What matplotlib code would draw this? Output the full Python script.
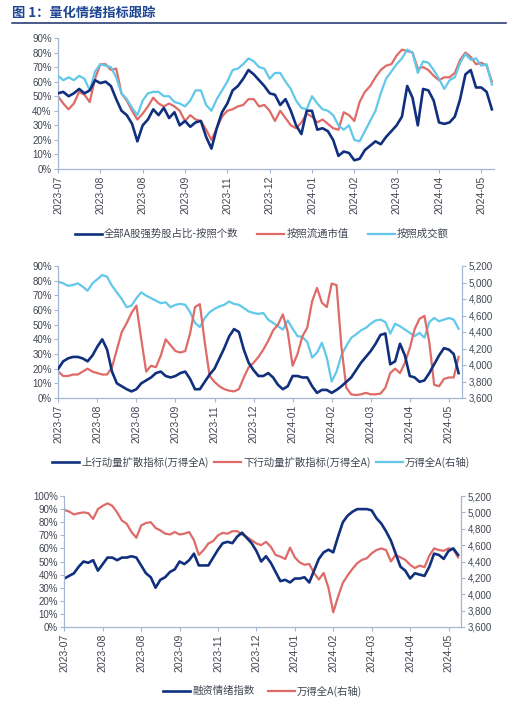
import matplotlib
matplotlib.use("Agg")
import matplotlib.pyplot as plt
from matplotlib.ticker import FuncFormatter, PercentFormatter
from matplotlib.lines import Line2D

plt.rcParams['font.family'] = ['Liberation Sans', 'Noto Sans CJK SC', 'DejaVu Sans']

# x axis tick labels (category axis, one label every 8 points)
tick_labels = ['2023-07', '2023-08', '2023-08', '2023-09', '2023-11', '2023-12',
               '2024-01', '2024-02', '2024-03', '2024-04', '2024-05']

# Panel 1: strong-stock ratio (%)
p1_count = [52, 53, 50, 52, 55, 52, 54, 61, 59, 60,
            57, 48, 40, 37, 31, 19, 30, 34, 41, 37,
            42, 35, 39, 30, 33, 29, 32, 33, 22, 14,
            28, 39, 45, 54, 57, 62, 68, 65, 61, 57,
            52, 51, 44, 48, 40, 30, 24, 40, 40, 27,
            28, 26, 20, 9, 12, 11, 6, 7, 13, 16,
            19, 17, 22, 26, 30, 36, 57, 49, 30, 55,
            54, 47, 32, 31, 32, 36, 48, 65, 68, 56,
            56, 53, 41]
p1_float = [50, 45, 41, 45, 53, 51, 46, 62, 72, 72,
            68, 69, 52, 47, 40, 34, 38, 43, 49, 45,
            43, 45, 43, 40, 33, 37, 34, 33, 27, 20,
            28, 36, 40, 41, 43, 44, 48, 48, 43, 44,
            40, 33, 40, 35, 30, 28, 32, 38, 36, 32,
            34, 31, 28, 27, 39, 37, 33, 46, 53, 57,
            63, 68, 71, 72, 78, 82, 81, 80, 69, 70,
            68, 64, 61, 63, 63, 66, 75, 80, 77, 72,
            73, 71, 60]
p1_turnover = [64, 61, 63, 61, 64, 62, 54, 67, 72, 71,
               70, 63, 52, 48, 42, 37, 47, 52, 53, 53,
               50, 50, 46, 45, 43, 47, 54, 54, 44, 40,
               48, 54, 60, 68, 69, 72, 76, 74, 70, 69,
               62, 66, 66, 60, 55, 47, 42, 41, 50, 45,
               41, 40, 37, 30, 27, 30, 20, 19, 26, 33,
               40, 52, 62, 67, 72, 76, 82, 80, 66, 74,
               73, 68, 62, 55, 61, 63, 73, 79, 75, 76,
               71, 72, 58]

# Panel 2: momentum diffusion (%) and Wind All A index (right axis)
p2_up = [20, 25, 27, 28, 28, 27, 25, 29, 35, 40,
         33, 18, 10, 8, 6, 4.5, 6, 10, 12, 14,
         17, 18, 15, 14, 15, 17, 18, 13, 6, 6,
         11, 16, 20, 27, 34, 42, 47, 45, 33, 24,
         19, 15, 15, 17, 14, 9, 6, 8, 15, 15,
         14, 14, 8, 3.5, 5.5, 5.5, 3.5, 5.5, 8, 11,
         14, 19, 24, 28, 32, 37, 43, 44, 23, 25,
         37, 29, 15, 14, 11, 12, 17, 23, 29, 34,
         33, 30, 17]
p2_down = [18, 15, 15, 16, 16, 18, 20, 18, 17, 16,
           16, 21, 33, 45, 51, 58, 63, 40, 18, 22,
           21, 29, 40, 36, 32, 31, 32, 44, 62, 64,
           38, 15, 11, 8, 6, 5, 4.5, 6, 14, 21,
           24, 28, 33, 39, 46, 50, 57, 45, 22, 30,
           42, 48, 66, 75, 65, 62, 78, 77, 35, 7,
           2.5, 2, 2.5, 3.5, 2.5, 2.5, 3, 7, 17, 20,
           17, 24, 34, 47, 54, 56, 38, 9, 8, 13,
           14, 14, 28]
p2_index = [5010, 4990, 4960, 4970, 4990, 4950, 4900, 4990, 5040, 5090,
            5070, 4960, 4880, 4800, 4700, 4720, 4810, 4880, 4840, 4810,
            4780, 4750, 4760, 4700, 4730, 4740, 4730, 4640, 4510, 4460,
            4570, 4640, 4680, 4710, 4730, 4770, 4740, 4730, 4690, 4650,
            4630, 4620, 4630, 4550, 4510, 4470, 4430, 4540, 4440, 4350,
            4340, 4280, 4090, 4150, 4270, 4090, 3800, 3920, 4120, 4230,
            4330, 4370, 4420, 4450, 4500, 4540, 4550, 4520, 4380, 4500,
            4470, 4430, 4390, 4350, 4390, 4330, 4520, 4570, 4530, 4550,
            4570, 4550, 4440]

# Panel 3: margin financing sentiment (%) and Wind All A index (right axis)
p3_margin = [37, 39, 41, 46, 50, 49, 51, 43, 48, 53,
             53, 51, 53, 53, 54, 53, 47, 41, 38, 30,
             36, 38, 42, 44, 50, 48, 51, 56, 47, 47,
             47, 53, 59, 64, 65, 64, 69, 72, 68, 64,
             58, 50, 54, 49, 42, 35, 36, 34, 37, 37,
             38, 34, 43, 52, 57, 59, 57, 69, 80, 85,
             88, 90, 90, 90, 89, 83, 79, 73, 66, 56,
             46, 43, 37, 41, 40, 39, 46, 56, 55, 52,
             58, 60, 55]
p3_index = [5030, 5010, 4975, 4990, 5000, 4990, 4920, 5040, 5080, 5110,
            5080, 5000, 4900, 4860, 4760, 4690, 4840, 4870, 4880, 4810,
            4780, 4740, 4730, 4760, 4730, 4740, 4760, 4660, 4480, 4540,
            4620, 4650, 4720, 4750, 4740, 4770, 4770, 4730, 4700, 4660,
            4620, 4600, 4640, 4580, 4480, 4460, 4430, 4570, 4450, 4390,
            4360, 4370, 4260, 4180, 4260, 4080, 3780, 3970, 4140, 4230,
            4310, 4380, 4420, 4440, 4500, 4540, 4560, 4540, 4400, 4480,
            4450, 4420, 4360, 4320, 4350, 4330, 4470, 4560, 4540, 4530,
            4560, 4550, 4450]

NAVY = '#10307e'
RED = '#de6b68'
LBLUE = '#62c8ea'
SPINE = '#a3b6d2'
TXT = '#404652'
W, H = 518, 718

fig = plt.figure(figsize=(W / 100, H / 100), dpi=100)

# title + rule
fig.text(12 / W, 1 - 13 / H, '图 1：量化情绪指标跟踪', fontsize=9.5, fontweight='bold',
         color='#1d4592', va='center', ha='left', family=['Noto Sans CJK SC', 'DejaVu Sans'])
fig.add_artist(Line2D([12 / W, 506 / W], [1 - 22.5 / H, 1 - 22.5 / H], color='#1a2d6b', lw=1.1))


def px_axes(left, right, top, bottom):
    return fig.add_axes([left / W, 1 - bottom / H, (right - left) / W, (bottom - top) / H])


def style(ax):
    for s in ['top', 'right']:
        ax.spines[s].set_visible(False)
    for s in ['left', 'bottom']:
        ax.spines[s].set_color(SPINE)
        ax.spines[s].set_linewidth(0.9)
    ax.set_xticks(range(0, 81, 8))
    ax.set_xticklabels(tick_labels, rotation=90)
    ax.tick_params(axis='x', length=3, width=0.8, color=SPINE, labelsize=7.5, labelcolor=TXT, pad=2)
    ax.tick_params(axis='y', length=3, width=0.8, color=SPINE, labelsize=7, labelcolor=TXT, pad=1.5)
    ax.yaxis.set_major_formatter(PercentFormatter(decimals=0))


def style_right(ax2, ymin, ymax):
    for s in ['top', 'left', 'bottom']:
        ax2.spines[s].set_visible(False)
    ax2.spines['right'].set_color(SPINE)
    ax2.spines['right'].set_linewidth(0.9)
    ax2.set_ylim(ymin, ymax)
    ax2.set_yticks(range(ymin, ymax + 1, 200))
    ax2.yaxis.set_major_formatter(FuncFormatter(lambda v, p: f'{v:,.0f}'))
    ax2.tick_params(axis='y', length=3, width=0.8, color=SPINE, labelsize=7, labelcolor=TXT, pad=2)


def legend(ax, handles, labels, x, y, spacing):
    ax.legend(handles, labels, loc='center left', bbox_to_anchor=(x / W, 1 - y / H),
              bbox_transform=fig.transFigure, ncol=len(handles), frameon=False,
              borderpad=0, borderaxespad=0, handlelength=2.6, handletextpad=0.2,
              columnspacing=spacing, prop={'family': ['Noto Sans CJK SC', 'DejaVu Sans'], 'size': 7.5},
              labelcolor=TXT)


x = list(range(len(p1_count)))

# ---- panel 1
ax1 = px_axes(58, 494, 38, 169)
l_red, = ax1.plot(x, p1_float, color=RED, lw=1.6, zorder=2)
l_lb, = ax1.plot(x, p1_turnover, color=LBLUE, lw=1.6, zorder=3)
l_nv, = ax1.plot(x, p1_count, color=NAVY, lw=1.9, zorder=4)
ax1.set_xlim(0, 82.4)
ax1.set_ylim(0, 90)
ax1.set_yticks(range(0, 91, 10))
style(ax1)
legend(ax1, [l_nv, l_red, l_lb], ['全部A股强势股占比-按照个数', '按照流通市值', '按照成交额'], 75, 234, 1.8)

# ---- panel 2
ax2 = px_axes(58.3, 462, 266, 398)
ax2r = ax2.twinx()
m_lb, = ax2r.plot(x, p2_index, color=LBLUE, lw=1.6)
m_up, = ax2.plot(x, p2_up, color=NAVY, lw=1.9, zorder=3)
m_dn, = ax2.plot(x, p2_down, color=RED, lw=1.6, zorder=2)
ax2.set_zorder(ax2r.get_zorder() + 1)
ax2.patch.set_visible(False)
ax2.set_xlim(0, 82.7)
ax2.set_ylim(0, 90)
ax2.set_yticks(range(0, 91, 10))
style(ax2)
style_right(ax2r, 3600, 5200)
legend(ax2, [m_up, m_dn, m_lb], ['上行动量扩散指标(万得全A)', '下行动量扩散指标(万得全A)', '万得全A(右轴)'], 52, 462, 0.5)

# ---- panel 3
ax3 = px_axes(64.3, 461, 496, 627)
ax3r = ax3.twinx()
n_rd, = ax3r.plot(x, p3_index, color=RED, lw=1.6)
n_nv, = ax3.plot(x, p3_margin, color=NAVY, lw=1.9)
ax3.set_zorder(ax3r.get_zorder() + 1)
ax3.patch.set_visible(False)
ax3.set_xlim(0, 82.6)
ax3.set_ylim(0, 100)
ax3.set_yticks(range(0, 101, 10))
style(ax3)
style_right(ax3r, 3600, 5200)
legend(ax3, [n_nv, n_rd], ['融资情绪指数', '万得全A(右轴)'], 163, 691, 1.3)

fig.savefig('out.png', dpi=100)
